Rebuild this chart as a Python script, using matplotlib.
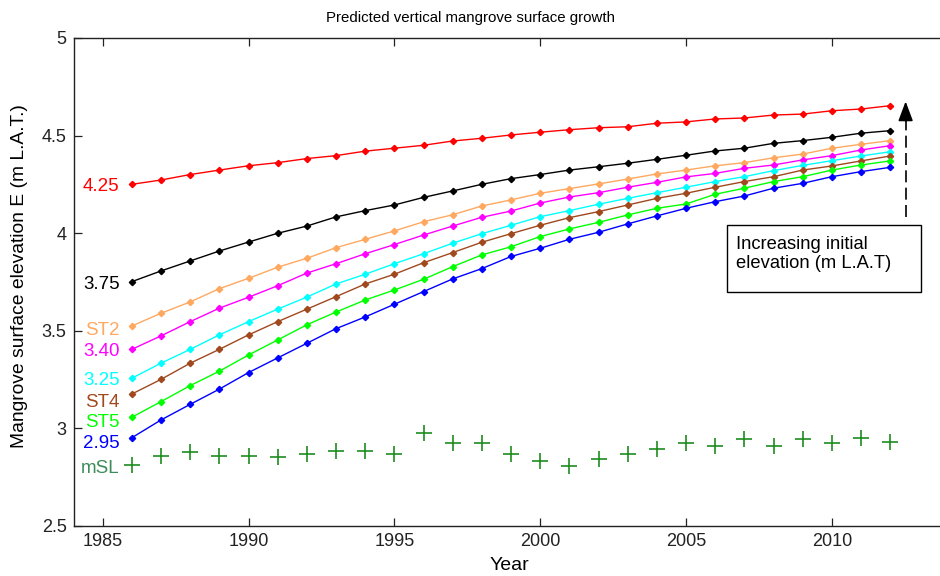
import matplotlib
matplotlib.use("Agg")
import matplotlib.pyplot as plt
from matplotlib.patches import Rectangle

plt.rcParams['font.family'] = ['Liberation Sans', 'DejaVu Sans']

# Simulated years
years = list(range(1986, 2013))

# Predicted surface elevation (m L.A.T.) for each initial elevation
elev_425 = [4.250, 4.272, 4.300, 4.323, 4.345, 4.361, 4.382, 4.397, 4.420, 4.435,
            4.450, 4.472, 4.486, 4.503, 4.517, 4.530, 4.540, 4.545, 4.563, 4.570,
            4.585, 4.590, 4.605, 4.610, 4.627, 4.636, 4.653]
elev_375 = [3.751, 3.806, 3.857, 3.908, 3.954, 3.999, 4.036, 4.083, 4.115, 4.144,
            4.183, 4.216, 4.250, 4.279, 4.300, 4.323, 4.340, 4.358, 4.378, 4.399,
            4.421, 4.435, 4.460, 4.474, 4.491, 4.512, 4.525]
elev_st2 = [3.524, 3.589, 3.647, 3.715, 3.768, 3.825, 3.871, 3.925, 3.968, 4.011,
            4.058, 4.094, 4.139, 4.170, 4.204, 4.228, 4.252, 4.277, 4.303, 4.323,
            4.345, 4.361, 4.386, 4.405, 4.435, 4.455, 4.474]
elev_340 = [3.404, 3.473, 3.546, 3.615, 3.671, 3.730, 3.795, 3.843, 3.894, 3.941,
            3.990, 4.036, 4.081, 4.113, 4.154, 4.185, 4.207, 4.235, 4.260, 4.288,
            4.306, 4.332, 4.349, 4.375, 4.397, 4.426, 4.448]
elev_325 = [3.256, 3.333, 3.404, 3.478, 3.546, 3.610, 3.672, 3.739, 3.789, 3.843,
            3.894, 3.948, 3.997, 4.040, 4.084, 4.115, 4.148, 4.178, 4.207, 4.235,
            4.264, 4.289, 4.320, 4.347, 4.371, 4.395, 4.417]
elev_st4 = [3.175, 3.250, 3.333, 3.404, 3.478, 3.546, 3.610, 3.674, 3.739, 3.789,
            3.848, 3.900, 3.953, 3.997, 4.040, 4.079, 4.110, 4.144, 4.178, 4.204,
            4.235, 4.264, 4.289, 4.323, 4.344, 4.370, 4.395]
elev_st5 = [3.056, 3.136, 3.218, 3.292, 3.375, 3.452, 3.530, 3.595, 3.657, 3.708,
            3.763, 3.828, 3.888, 3.930, 3.982, 4.021, 4.055, 4.093, 4.127, 4.149,
            4.199, 4.230, 4.264, 4.289, 4.323, 4.349, 4.370]
elev_295 = [2.951, 3.042, 3.122, 3.200, 3.285, 3.360, 3.435, 3.510, 3.570, 3.635,
            3.700, 3.765, 3.818, 3.880, 3.922, 3.968, 4.004, 4.047, 4.088, 4.127,
            4.161, 4.190, 4.230, 4.255, 4.289, 4.315, 4.337]

# Mean sea level
msl = [2.811, 2.859, 2.880, 2.857, 2.857, 2.854, 2.866, 2.883, 2.883, 2.868,
       2.974, 2.923, 2.923, 2.868, 2.834, 2.808, 2.840, 2.868, 2.893, 2.923,
       2.910, 2.945, 2.910, 2.945, 2.923, 2.951, 2.928]

series = [
    (elev_425, '4.25', '#FF0000'),
    (elev_375, '3.75', '#000000'),
    (elev_st2, 'ST2', '#FFA860'),
    (elev_340, '3.40', '#FF00FF'),
    (elev_325, '3.25', '#00FFFF'),
    (elev_st4, 'ST4', '#A0481E'),
    (elev_st5, 'ST5', '#00FF00'),
    (elev_295, '2.95', '#0000FF'),
]
label_offsets = [-0.01, -0.017, -0.021, -0.012, -0.014, -0.042, -0.026, -0.031]

W, H = 940, 576
fig = plt.figure(figsize=(W / 100, H / 100), dpi=100)
left, right, top, bottom = 73.5, 948.5, 38, 525.7
ax = fig.add_axes([left / W, 1 - bottom / H, (right - left) / W, (bottom - top) / H])

for (vals, name, col), off in zip(series, label_offsets):
    ax.plot(years, vals, color=col, lw=1.0, marker='D', ms=3.2, mec=col, mfc=col)
    ax.text(years[0] - 0.42, vals[0] + off, name, color=col, fontsize=13.5,
            ha='right', va='center')

ax.plot(years, msl, linestyle='none', marker='+', ms=11.5, mew=1.2, color='#1E8C1E')
ax.text(years[0] - 0.42, msl[0] - 0.016, 'mSL', color='#3C8C5A', fontsize=13.5,
        ha='right', va='center')

# Dashed arrow pointing to increasing initial elevation
ax.plot([2012.53, 2012.53], [4.084, 4.60], color='black', lw=1.2, dashes=(7.2, 3.2))
ax.annotate('', xy=(2012.53, 4.675), xytext=(2012.53, 4.575),
            arrowprops=dict(arrowstyle='-|>,head_length=1.2,head_width=0.45',
                            color='black', lw=1.2, shrinkA=0, shrinkB=0))

# Text box
ax.add_patch(Rectangle((2006.39, 3.70), 2013.04 - 2006.39, 4.042 - 3.70,
                       fc='white', ec='black', lw=1.0, zorder=3))
ax.text(2006.73, 3.893, 'Increasing initial\nelevation (m L.A.T)', fontsize=13.2,
        ha='left', va='center', linespacing=1.2, zorder=4)

ax.set_xlim(1984, 2014)
ax.set_ylim(2.5, 5)
ax.set_xticks([1985, 1990, 1995, 2000, 2005, 2010])
ax.set_yticks([2.5, 3, 3.5, 4, 4.5, 5])
ax.set_yticklabels(['2.5', '3', '3.5', '4', '4.5', '5'])
ax.tick_params(direction='in', length=5.5, width=0.9, labelsize=13,
               top=True, right=True, pad=5, colors='#222222')
for sp in ax.spines.values():
    sp.set_linewidth(1.0)
    sp.set_color('#222222')

fig.text(470.8 / W, 1 - 18 / H, 'Predicted vertical mangrove surface growth',
         fontsize=10.8, ha='center', va='center')
fig.text(509.5 / W, 1 - 566 / H, 'Year', fontsize=14, ha='center', va='center')
fig.text(20 / W, 1 - 276 / H, 'Mangrove surface elevation E (m L.A.T.)',
         fontsize=13.9, rotation=90, ha='center', va='center')

fig.savefig('out.png', dpi=100)
